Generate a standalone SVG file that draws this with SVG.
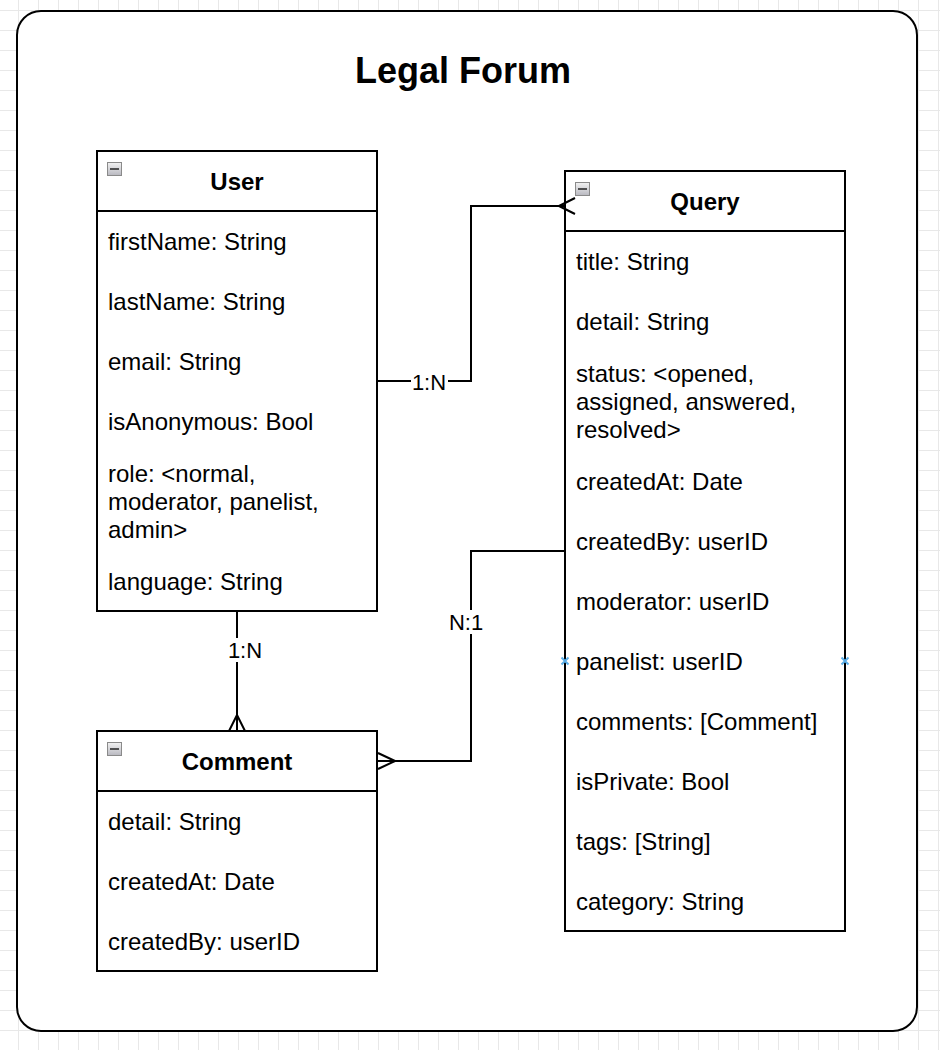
<svg xmlns="http://www.w3.org/2000/svg" width="940" height="1050" viewBox="0 0 940 1050">
<style>
  .box{fill:#fff;stroke:#000;stroke-width:2}
  .sep{stroke:#000;stroke-width:2}
  .hdr{font-family:"Liberation Sans",Arial,sans-serif;font-size:24px;font-weight:bold;fill:#000;text-anchor:middle;dominant-baseline:central}
  .fld{font-family:"Liberation Sans",Arial,sans-serif;font-size:24px;fill:#000;dominant-baseline:central}
  .lbl{font-family:"Liberation Sans",Arial,sans-serif;font-size:22px;fill:#000;text-anchor:middle;dominant-baseline:central}
  .edge{fill:none;stroke:#000;stroke-width:2}
  .mk{fill:none;stroke:#5aaee8;stroke-width:2}
</style>
<defs>
  <pattern id="grid" x="-2" y="10" width="20" height="20" patternUnits="userSpaceOnUse">
    <path d="M0 0.5H20M0.5 0V20" fill="none" stroke="#e8e8e8" stroke-width="1"/>
  </pattern>
  <linearGradient id="ig" x1="0" y1="0" x2="0" y2="1">
    <stop offset="0" stop-color="#f2f2f2"/>
    <stop offset="1" stop-color="#b8b8c0"/>
  </linearGradient>
  <g id="minus">
    <rect x="0.5" y="0.5" width="14" height="13" fill="url(#ig)" stroke="#8a8a8a" stroke-width="1"/>
    <path d="M3 7H12" stroke="#222" stroke-width="1.5"/>
  </g>
</defs>
<rect width="940" height="1050" fill="#fff"/>
<rect width="940" height="1050" fill="url(#grid)"/>
<rect x="17" y="11" width="900" height="1020" rx="24" ry="24" fill="#fff" stroke="#000" stroke-width="2"/>
<text x="463" y="70" class="hdr" style="font-size:36px">Legal Forum</text>

<g id="user">
  <rect class="box" x="97" y="151" width="280" height="460"/>
  <line class="sep" x1="97" y1="211" x2="377" y2="211"/>
  <use href="#minus" x="107" y="162"/>
  <text x="237" y="181" class="hdr">User</text>
  <text x="108" y="241" class="fld">firstName: String</text>
  <text x="108" y="301" class="fld">lastName: String</text>
  <text x="108" y="361" class="fld">email: String</text>
  <text x="108" y="421" class="fld">isAnonymous: Bool</text>
  <text x="108" y="473" class="fld">role: &lt;normal,</text>
  <text x="108" y="501" class="fld">moderator, panelist,</text>
  <text x="108" y="529" class="fld">admin&gt;</text>
  <text x="108" y="581" class="fld">language: String</text>
</g>

<g id="query">
  <rect class="box" x="565" y="171" width="280" height="760"/>
  <line class="sep" x1="565" y1="231" x2="845" y2="231"/>
  <use href="#minus" x="575" y="182"/>
  <text x="705" y="201" class="hdr">Query</text>
  <text x="576" y="261" class="fld">title: String</text>
  <text x="576" y="321" class="fld">detail: String</text>
  <text x="576" y="373" class="fld">status: &lt;opened,</text>
  <text x="576" y="401" class="fld">assigned, answered,</text>
  <text x="576" y="429" class="fld">resolved&gt;</text>
  <text x="576" y="481" class="fld">createdAt: Date</text>
  <text x="576" y="541" class="fld">createdBy: userID</text>
  <text x="576" y="601" class="fld">moderator: userID</text>
  <text x="576" y="661" class="fld">panelist: userID</text>
  <text x="576" y="721" class="fld">comments: [Comment]</text>
  <text x="576" y="781" class="fld">isPrivate: Bool</text>
  <text x="576" y="841" class="fld">tags: [String]</text>
  <text x="576" y="901" class="fld">category: String</text>
  <path class="mk" d="M561.5 657.5L568.5 664.5M568.5 657.5L561.5 664.5"/>
  <path class="mk" d="M841.5 657.5L848.5 664.5M848.5 657.5L841.5 664.5"/>
</g>

<g id="comment">
  <rect class="box" x="97" y="731" width="280" height="240"/>
  <line class="sep" x1="97" y1="791" x2="377" y2="791"/>
  <use href="#minus" x="107" y="742"/>
  <text x="237" y="761" class="hdr">Comment</text>
  <text x="108" y="821" class="fld">detail: String</text>
  <text x="108" y="881" class="fld">createdAt: Date</text>
  <text x="108" y="941" class="fld">createdBy: userID</text>
</g>

<g id="connectors">
  <path class="edge" d="M377 381H471V206H565"/>
  <path class="edge" d="M559 206L575 198M559 206L575 214"/>
  <rect x="411" y="369" width="37" height="24" fill="#fff"/>
  <text x="429" y="382" class="lbl">1:N</text>

  <path class="edge" d="M237 611V731"/>
  <path class="edge" d="M237 715L229 731M237 715L245 731"/>
  <rect x="224" y="638" width="40" height="24" fill="#fff"/>
  <text x="245" y="650" class="lbl">1:N</text>

  <path class="edge" d="M565 551H471V761H377"/>
  <path class="edge" d="M395 761L378 753M395 761L378 769"/>
  <rect x="446" y="610" width="40" height="24" fill="#fff"/>
  <text x="466" y="622" class="lbl">N:1</text>
</g>
</svg>
